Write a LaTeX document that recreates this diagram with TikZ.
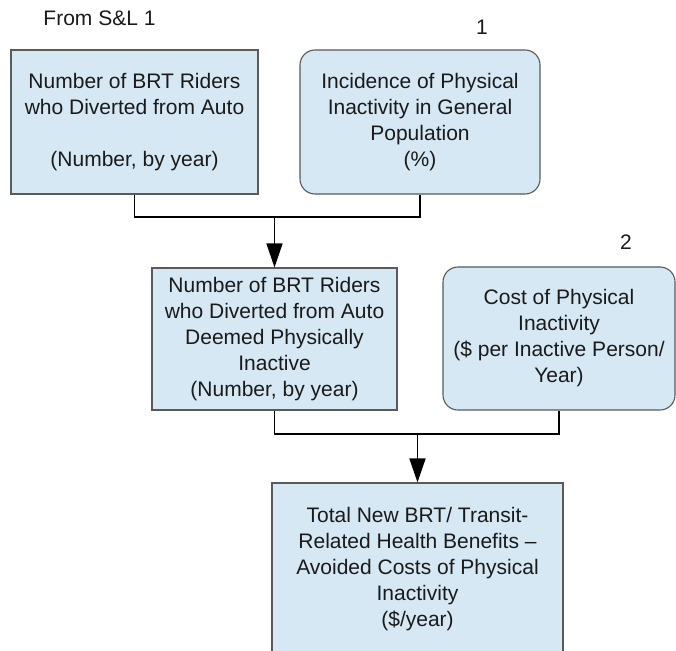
\documentclass[tikz,border=0pt]{standalone}
\usepackage{fontspec}
\setmainfont{Liberation Sans}
\usetikzlibrary{arrows.meta}
\definecolor{boxfill}{HTML}{D5E8F4}
\definecolor{boxline}{HTML}{5A5A5A}
\definecolor{txt}{HTML}{1A1A1A}
\tikzset{
  box/.style={draw=boxline, line width=1.1pt, fill=boxfill, align=center,
    inner sep=0pt, text=txt, font=\fontsize{21}{26}\selectfont},
  rbox/.style={box, rounded corners=15pt},
  conn/.style={draw=black, line width=1.6pt},
  arr/.style={conn, -{Triangle[length=24pt,width=16pt]}},
  lbl/.style={text=txt, font=\fontsize{21}{26}\selectfont, inner sep=0pt}
}
\begin{document}
\begin{tikzpicture}[x=1pt,y=-1pt]
\clip (0,0) rectangle (676,650);
\fill[white] (0,0) rectangle (676,650);

\node[lbl] (src) at (99.5,18) {From S\&L 1};
\node[lbl] (n1) at (482,27) {1};
\node[lbl] (n2) at (626,242) {2};

\node[box, minimum width=247pt, minimum height=144pt] (b1) at (134.5,122)
  {Number of BRT Riders\\who Diverted from Auto\\[26pt](Number, by year)};
\node[rbox, minimum width=240pt, minimum height=144pt] (b2) at (420,122)
  {Incidence of Physical\\Inactivity in General\\Population\\(\%)};
\node[box, minimum width=245pt, minimum height=142pt] (b3) at (274.5,339)
  {Number of BRT Riders\\who Diverted from Auto\\Deemed Physically\\Inactive\\(Number, by year)};
\node[rbox, minimum width=232pt, minimum height=143pt] (b4) at (559,338.5)
  {Cost of Physical\\Inactivity\\(\$ per Inactive Person/\\Year)};
\node[box, minimum width=291pt, minimum height=172pt] (b5) at (417.5,569)
  {Total New BRT/ Transit-\\Related Health Benefits –\\Avoided Costs of Physical\\Inactivity\\(\$/year)};

\coordinate (j1) at (274.5,217);
\coordinate (j2) at (417.5,434);
\draw[conn] (b1.south) |- (j1) -| (b2.south);
\draw[arr] (j1) -- (b3.north);
\draw[conn] (b3.south) |- (j2) -| (b4.south);
\draw[arr] (j2) -- (b5.north);
\end{tikzpicture}
\end{document}
